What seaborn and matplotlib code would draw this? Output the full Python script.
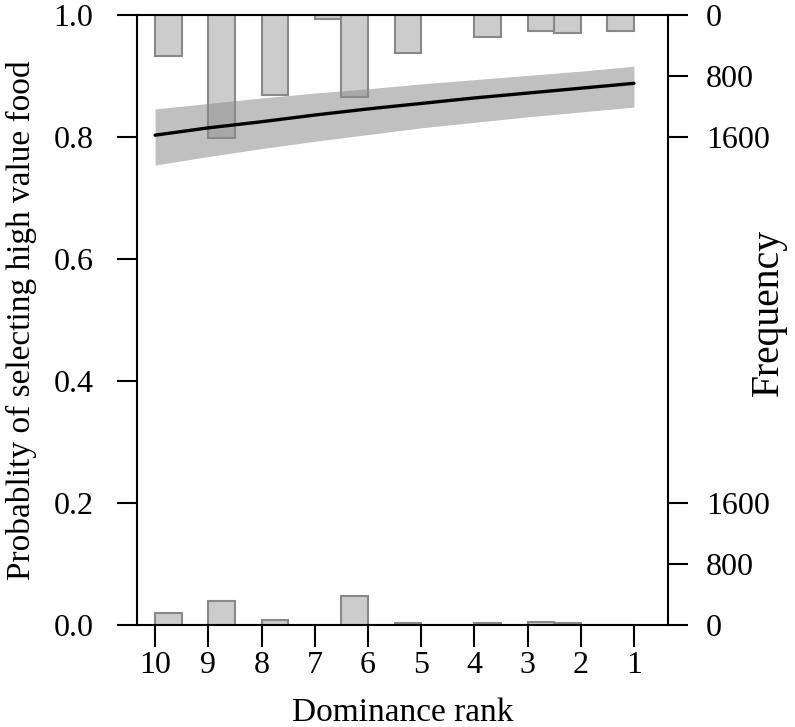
import numpy as np
import pandas as pd
import matplotlib
matplotlib.use("Agg")
import matplotlib.pyplot as plt
import seaborn as sns

# fitted probability (logistic model) at each dominance rank
rank = [10, 9, 8, 7, 6, 5, 4, 3, 2, 1]
fit = [0.803, 0.815, 0.825, 0.836, 0.846, 0.855, 0.864, 0.872, 0.880, 0.888]
ci_low = [0.754, 0.768, 0.781, 0.793, 0.804, 0.815, 0.824, 0.833, 0.841, 0.849]
ci_high = [0.846, 0.855, 0.864, 0.872, 0.879, 0.887, 0.894, 0.901, 0.908, 0.916]

# histogram of observations (bin centres, counts) for high value (top) and low value (bottom)
bin_mid = [9.75, 8.75, 7.75, 6.75, 6.25, 5.25, 3.75, 2.75, 2.25, 1.25]
count_high = [542, 1614, 1047, 57, 1071, 498, 291, 216, 238, 216]
count_low = [159, 312, 70, 3, 378, 20, 20, 40, 30, 5]

freq_ticks = [0, 800, 1600]
freq_max = 8000

sns.set_style("ticks")
plt.rcParams['font.family'] = ['Liberation Serif', 'DejaVu Serif']
plt.rcParams['text.color'] = 'black'
plt.rcParams['axes.labelcolor'] = 'black'
plt.rcParams['xtick.color'] = 'black'
plt.rcParams['ytick.color'] = 'black'

fig = plt.figure(figsize=(7.95, 7.27), dpi=100)
ax = fig.add_axes([137 / 795, 1 - 625 / 727, (668 - 137) / 795, (625 - 15) / 727])

hist_kw = dict(binwidth=0.5, binrange=(1, 10), color='#cccccc', edgecolor='#888888',
               linewidth=1.5, alpha=1)

# bottom histogram (rising from 0)
ax_bot = ax.twinx()
sns.histplot(x=bin_mid, weights=count_low, ax=ax_bot, **hist_kw)
ax_bot.set_ylim(0, freq_max)

# top histogram (hanging from 1)
ax_top = ax.twinx()
sns.histplot(x=bin_mid, weights=count_high, ax=ax_top, **hist_kw)
ax_top.set_ylim(freq_max, 0)

for a in (ax_bot, ax_top):
    a.set_ylabel('')
    a.set_yticks(freq_ticks)
    a.set_yticklabels([str(t) for t in freq_ticks])
    a.tick_params(axis='y', which='both', left=False, right=True, labelleft=False,
                  labelright=True, length=14.4, width=1.5, pad=13, labelsize=23,
                  colors='black')
    for s in a.spines.values():
        s.set_visible(False)

# fitted curve and confidence band on top
ax.set_zorder(ax_top.get_zorder() + 1)
ax.patch.set_visible(False)
ax.fill_between(rank, ci_low, ci_high, color='#888888', alpha=0.53, linewidth=0)
sns.lineplot(x=rank, y=fit, ax=ax, color='black', linewidth=2.4)

ax.set_ylim(0, 1)
ax.set_xlim(10.34, 0.36)
ax.set_xticks(rank)
ax.set_xticklabels([str(r) for r in rank])
ax.set_yticks([0.0, 0.2, 0.4, 0.6, 0.8, 1.0])
ax.set_yticklabels(['0.0', '0.2', '0.4', '0.6', '0.8', '1.0'])
ax.tick_params(axis='y', right=False, length=14.4, width=1.5, pad=17, labelsize=23,
               colors='black')
ax.tick_params(axis='x', length=15.5, width=1.5, pad=3, labelsize=23, colors='black')
for s in ax.spines.values():
    s.set_visible(True)
    s.set_linewidth(1.5)
    s.set_color('black')
ax.set_ylabel('')
ax.set_xlabel('Dominance rank', fontsize=24, labelpad=13, color='black')

fig.text(21 / 795, 1 - 320 / 727, 'Probablity of selecting high value food',
         rotation=90, ha='center', va='center', fontsize=24, color='black')
fig.text(768 / 795, 1 - 313 / 727, 'Frequency', rotation=90, ha='center',
         va='center', fontsize=28.5, color='black')

fig.savefig('out.png', dpi=100)
